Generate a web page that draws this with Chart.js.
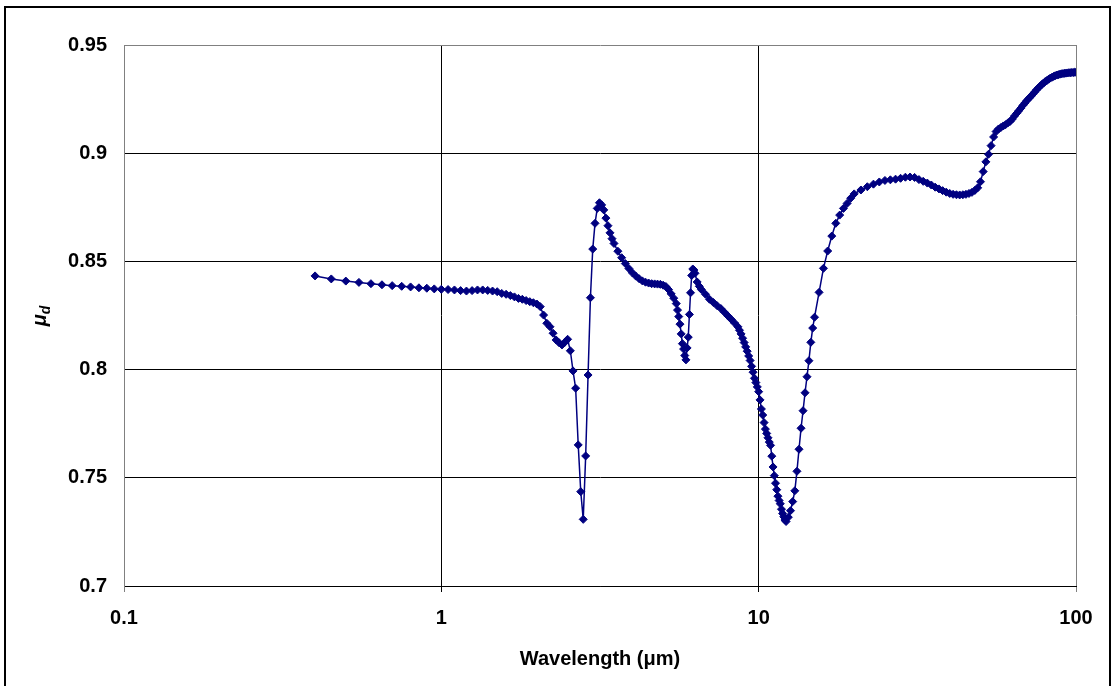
<!DOCTYPE html>
<html>
<head>
<meta charset="utf-8">
<title>mu_d vs wavelength</title>
<script src="https://cdn.jsdelivr.net/npm/chart.js@4/dist/chart.umd.min.js"></script>
<style>
  html, body { margin: 0; padding: 0; background: #fff; }
  #wrap { width: 1114px; height: 686px; position: relative; }
</style>
</head>
<body>
<div id="wrap"><canvas id="muChart"></canvas></div>
<script>
// wavelength in micrometres
const wavelength = [
  0.4, 0.45, 0.5, 0.55, 0.6, 0.65, 0.7, 0.75, 0.8, 0.85, 0.9, 0.95,
  1.0, 1.05, 1.1, 1.15, 1.2, 1.25, 1.3, 1.35, 1.4, 1.45, 1.5, 1.55, 1.6, 1.65, 1.7, 1.75, 1.8, 1.85, 1.9, 1.95,
  2.0, 2.05, 2.1, 2.15, 2.2, 2.25, 2.3, 2.35, 2.4, 2.45, 2.5, 2.55, 2.6, 2.65, 2.7, 2.75, 2.8, 2.85, 2.9, 2.95,
  3.0, 3.05, 3.1, 3.15, 3.2, 3.25, 3.3, 3.35, 3.4, 3.45, 3.5, 3.6, 3.7, 3.8, 3.9,
  4.0, 4.1, 4.2, 4.3, 4.4, 4.5, 4.6, 4.7, 4.8, 4.9,
  5.0, 5.1, 5.2, 5.3, 5.4, 5.5, 5.55, 5.6, 5.65, 5.7, 5.75, 5.8, 5.85, 5.9, 5.95,
  6.0, 6.05, 6.1, 6.15, 6.2, 6.25, 6.3, 6.4, 6.5, 6.6, 6.8,
  7.0, 7.2, 7.4, 7.6, 7.8, 8.0, 8.2, 8.4, 8.6, 8.7, 8.8, 8.9,
  9.0, 9.1, 9.2, 9.3, 9.4, 9.5, 9.6, 9.7, 9.8, 9.9,
  10.0, 10.1, 10.2, 10.3, 10.4, 10.5, 10.6, 10.7, 10.8, 10.9,
  11.0, 11.1, 11.2, 11.3, 11.4, 11.5, 11.6, 11.7, 11.8, 11.9,
  12.0, 12.1, 12.2, 12.4, 12.6, 12.8, 13.0, 13.2, 13.4, 13.6, 13.8,
  14.0, 14.2, 14.4, 14.6, 14.8, 15.0, 15.5, 16.0, 16.5, 17.0, 17.5, 18.0, 18.5, 19.0, 19.5,
  20, 21, 22, 23, 24, 25, 26, 27, 28, 29, 30, 31, 32, 33, 34, 35, 36, 37, 38, 39,
  40, 41, 42, 43, 44, 45, 46, 47, 48, 49, 50, 51, 52, 53, 54, 55, 56, 57, 58, 59,
  60, 61, 62, 63, 64, 65, 66, 67, 68, 69, 70, 71, 72, 73, 74, 75, 76, 77, 78, 79,
  80, 81, 82, 83, 84, 85, 86, 87, 88, 89, 90, 91, 92, 93, 94, 95, 96, 97, 98, 99, 100
];

const mu = [
  0.8433, 0.8419, 0.8409, 0.8403, 0.8397, 0.8392, 0.8388, 0.8385, 0.8382, 0.8378, 0.8376, 0.8373,
  0.8371, 0.8370, 0.8368, 0.8365, 0.8363, 0.8365, 0.8368, 0.8368, 0.8366, 0.8363, 0.8360, 0.8352, 0.8348, 0.8342, 0.8336, 0.8329, 0.8325, 0.8319, 0.8314, 0.8309,
  0.8303, 0.8291, 0.8252, 0.8214, 0.8198, 0.8168, 0.8137, 0.8124, 0.8114, 0.8126, 0.8140, 0.8087, 0.7994, 0.7914, 0.7652, 0.7436, 0.7308, 0.7601, 0.7975, 0.8332,
  0.8557, 0.8676, 0.8745, 0.8771, 0.8761, 0.8738, 0.8700, 0.8665, 0.8632, 0.8605, 0.8583, 0.8547, 0.8517, 0.8490, 0.8467,
  0.8447, 0.8432, 0.8420, 0.8410, 0.8404, 0.8400, 0.8397, 0.8396, 0.8395, 0.8394,
  0.8390, 0.8384, 0.8370, 0.8350, 0.8330, 0.8305, 0.8275, 0.8245, 0.8210, 0.8165, 0.8120, 0.8095, 0.8065, 0.8045, 0.8100,
  0.8150, 0.8255, 0.8355, 0.8435, 0.8465, 0.8460, 0.8445, 0.8405, 0.8385, 0.8370, 0.8348,
  0.8325, 0.8310, 0.8295, 0.8282, 0.8265, 0.8248, 0.8232, 0.8215, 0.8198, 0.8182, 0.8165, 0.8145,
  0.8125, 0.8105, 0.8085, 0.8063, 0.8042, 0.8015, 0.7988, 0.7960, 0.7940, 0.7920,
  0.7898, 0.7860, 0.7818, 0.7790, 0.7755, 0.7725, 0.7705, 0.7685, 0.7665, 0.7650,
  0.7600, 0.7550, 0.7510, 0.7475, 0.7445, 0.7415, 0.7395, 0.7380, 0.7355, 0.7335,
  0.7320, 0.7305, 0.7298, 0.7318, 0.7348, 0.7390, 0.7440, 0.7530, 0.7632, 0.7729, 0.7810,
  0.7893, 0.7967, 0.8041, 0.8126, 0.8192, 0.8242, 0.8357, 0.8468, 0.8548, 0.8617, 0.8676, 0.8714, 0.8745, 0.8768, 0.8792,
  0.8812, 0.8830, 0.8845, 0.8857, 0.8867, 0.8874, 0.8877, 0.8880, 0.8884, 0.8889, 0.8890, 0.8888, 0.8878, 0.8870, 0.8862, 0.8853, 0.8843, 0.8835, 0.8827, 0.8820,
  0.8814, 0.8810, 0.8808, 0.8807, 0.8808, 0.8810, 0.8814, 0.8819, 0.8828, 0.8840, 0.8868, 0.8915, 0.8960, 0.8995, 0.9035, 0.9075, 0.9100, 0.9112, 0.9119, 0.9126,
  0.9132, 0.9140, 0.9147, 0.9158, 0.9172, 0.9184, 0.9196, 0.9208, 0.9221, 0.9232, 0.9243, 0.9253, 0.9262, 0.9272, 0.9282, 0.9292, 0.9301, 0.9309, 0.9317, 0.9324,
  0.9331, 0.9336, 0.9342, 0.9347, 0.9351, 0.9355, 0.9358, 0.9361, 0.9363, 0.9365, 0.9367, 0.9368, 0.9369, 0.9370, 0.9371, 0.9372, 0.9372, 0.9373, 0.9373, 0.9374, 0.9374
];

const xTicks = [0.1, 1, 10, 100];
const yMin = 0.7;
const yMax = 0.95;
const yStep = 0.05;

const xTitle = 'Wavelength (μm)';
const yTitleMain = 'μ';
const yTitleSub = 'd';

const fontFamily = '"Liberation Sans", Arial, Helvetica, sans-serif';

let points = [];
for (let i = 0; i < wavelength.length; i += 1) {
    points.push({x: wavelength[i], y: mu[i]});
}

// white page + outer frame
const framePlugin = {
    id: 'frame',
    beforeDraw(chart) {
        const ctx = chart.ctx;
        ctx.save();
        ctx.fillStyle = '#fff';
        ctx.fillRect(0, 0, chart.width, chart.height);
        ctx.restore();
    },
    afterDraw(chart) {
        const ctx = chart.ctx;
        ctx.save();
        ctx.strokeStyle = '#000';
        ctx.lineWidth = 2;
        ctx.beginPath();
        ctx.moveTo(5, 690);
        ctx.lineTo(5, 7);
        ctx.lineTo(1110, 7);
        ctx.lineTo(1110, 690);
        ctx.stroke();
        ctx.restore();
    }
};

// rotated y title with subscript
const yTitlePlugin = {
    id: 'yTitle',
    afterDraw(chart) {
        const ctx = chart.ctx;
        ctx.save();
        ctx.translate(41, 316);
        ctx.rotate(-Math.PI / 2);
        ctx.fillStyle = '#000';
        ctx.textBaseline = 'alphabetic';
        ctx.textAlign = 'left';
        ctx.font = 'italic bold 20px ' + fontFamily;
        const w1 = ctx.measureText(yTitleMain).width;
        ctx.font = 'italic bold 14px ' + fontFamily;
        const w2 = ctx.measureText(yTitleSub).width;
        const start = -(w1 + w2) / 2;
        ctx.font = 'italic bold 20px ' + fontFamily;
        ctx.fillText(yTitleMain, start, 5);
        ctx.font = 'italic bold 14px ' + fontFamily;
        ctx.fillText(yTitleSub, start + w1, 9);
        ctx.restore();
    }
};

var ctx = document.getElementById('muChart').getContext('2d');
window.muChart = new Chart(ctx, {
    type: 'scatter',
    data: {
        datasets: [{
            label: 'mu_d',
            data: points,
            showLine: true,
            borderColor: '#000080',
            backgroundColor: '#000080',
            borderWidth: 1.5,
            pointStyle: 'rectRot',
            pointRadius: 4,
            pointBorderWidth: 1,
            pointBorderColor: '#000080',
            pointBackgroundColor: '#000080',
            tension: 0
        }]
    },
    options: {
        responsive: true,
        maintainAspectRatio: false,
        animation: false,
        layout: {
            padding: {top: 45, right: 38, left: 0, bottom: 0}
        },
        plugins: {
            legend: {display: false},
            tooltip: {enabled: false},
            title: {display: false}
        },
        scales: {
            x: {
                type: 'logarithmic',
                min: 0.1,
                max: 100,
                afterBuildTicks: (scale) => {
                    scale.ticks = xTicks.map(v => ({value: v}));
                },
                afterFit: (scale) => {
                    scale.height = 100;
                },
                ticks: {
                    color: '#000',
                    font: {family: fontFamily, size: 20, weight: 'bold'},
                    padding: 14,
                    maxRotation: 0,
                    autoSkip: false,
                    callback: (value) => String(value)
                },
                grid: {
                    color: (c) => (c.tick && (c.tick.value === 0.1 || c.tick.value === 100)) ? '#808080' : '#000',
                    lineWidth: 1,
                    tickLength: 6,
                    drawTicks: true
                },
                border: {color: '#000', width: 1},
                title: {
                    display: true,
                    text: xTitle,
                    color: '#000',
                    font: {family: fontFamily, size: 20, weight: 'bold'},
                    padding: {top: 0, bottom: 15}
                }
            },
            y: {
                type: 'linear',
                min: yMin,
                max: yMax,
                afterFit: (scale) => {
                    scale.width = 124;
                },
                ticks: {
                    stepSize: yStep,
                    color: '#000',
                    font: {family: fontFamily, size: 20, weight: 'bold'},
                    padding: 17,
                    callback: (value) => String(parseFloat(Number(value).toFixed(2)))
                },
                grid: {
                    color: (c) => (c.tick && Math.abs(c.tick.value - yMax) < 1e-6) ? '#808080' : '#000',
                    lineWidth: 1,
                    drawTicks: false
                },
                border: {color: '#808080', width: 1}
            }
        }
    },
    plugins: [framePlugin, yTitlePlugin]
});
</script>
</body>
</html>
